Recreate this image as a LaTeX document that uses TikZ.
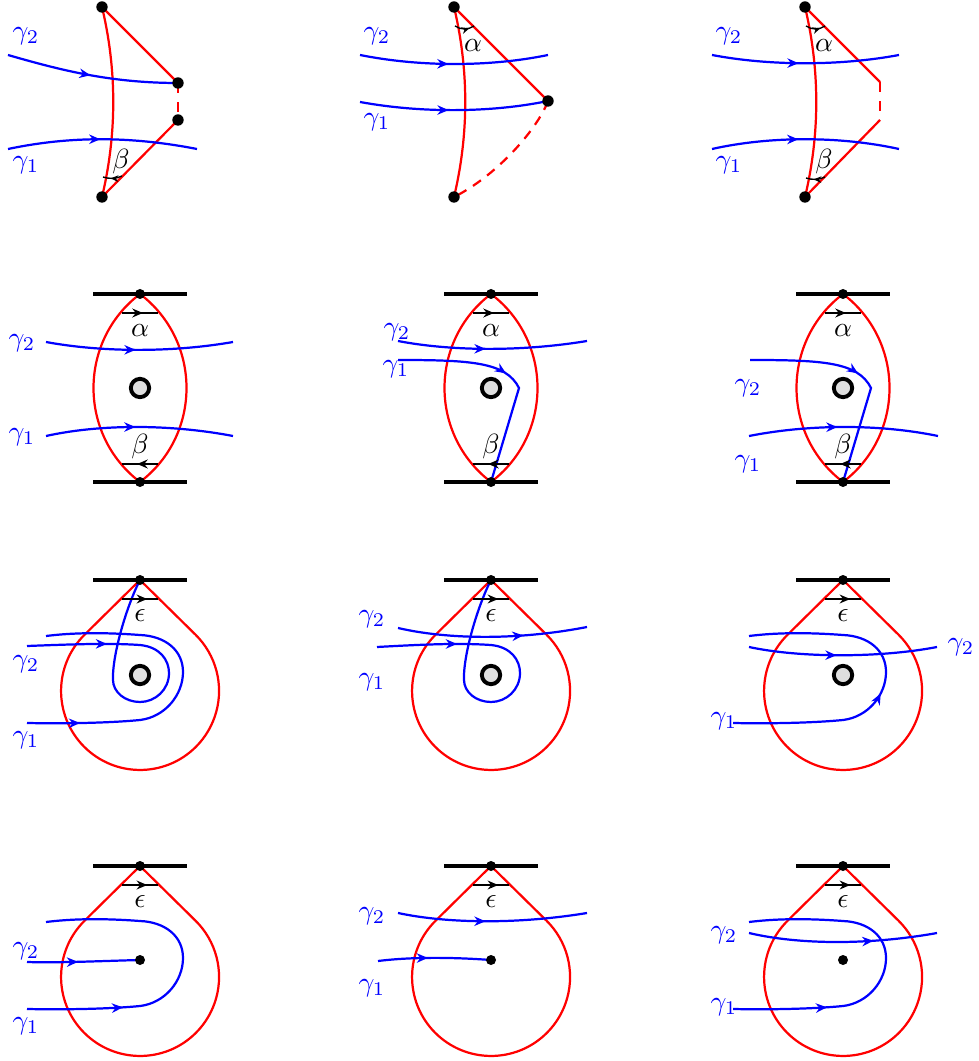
\documentclass[tikz,border=0pt]{standalone}
\usetikzlibrary{arrows.meta,decorations.markings}
\begin{document}
\begin{tikzpicture}[x=0.36pt,y=-0.36pt,
  redl/.style={red,line width=0.8pt},
  bluel/.style={blue,line width=0.8pt},
  barl/.style={black,line width=1.5pt},
  dotn/.style={circle,fill=black,inner sep=0pt,minimum size=3.6pt},
  bigdot/.style={circle,fill=black,inner sep=0pt,minimum size=4.1pt},
  obst/.style={circle,draw=black,line width=1.4pt,fill=gray!25,inner sep=0pt,minimum size=6.6pt},
  glab/.style={blue,inner sep=0pt},
  klab/.style={black,inner sep=0pt},
  dsh/.style={dash pattern=on 3.5pt off 3.5pt},
  arr/.style={postaction={decorate,decoration={markings,mark=at position #1*0.36pt with {\arrow{Stealth[length=4pt,width=3.4pt]}}}}},
  karr/.style={black,line width=0.6pt,postaction={decorate,decoration={markings,mark=at position #1 with {\arrow{Stealth[length=3.8pt,width=3.2pt]}}}}},
  sarr/.style={black,line width=0.5pt,postaction={decorate,decoration={markings,mark=at position #1 with {\arrow{Stealth[length=2.8pt,width=2.4pt]}}}}},
  tear/.pic={\draw[redl] (0,0) -- (-55.5,54.8) arc[start angle=225.3, end angle=-45.3, radius=79] -- cycle;},
  lens/.pic={\draw[redl] (0,-94) .. controls (-62,-47) and (-62,47) .. (0,94) .. controls (62,47) and (62,-47) .. (0,-94) -- cycle;}
]
\useasboundingbox (0,0) rectangle (978,1061);

% ================= Row 1 =================
% Panel 1
\coordinate (A1) at (102,7); \coordinate (B1) at (102,197);
\coordinate (C1) at (178,83); \coordinate (D1) at (178,120);
\draw[redl] (A1) .. controls (117,70) and (117,134) .. (B1);
\draw[redl] (A1) -- (C1);
\draw[redl,dsh] (C1) -- (D1);
\draw[redl] (D1) -- (B1);
\draw[bluel,arr=85] (8,55) .. controls (60,70) and (110,83) .. (C1);
\draw[bluel,arr=93] (8,149) .. controls (70,136) and (130,136) .. (197,149);
\draw[sarr=0.6] (122,176) .. controls (116,179) and (109,179) .. (103,177);
\node[glab] (P1g2) at (26,36) {$\gamma_2$};
\node[glab] (P1g1) at (26,165) {$\gamma_1$};
\node[klab] (P1b) at (121,162) {$\beta$};
\node[bigdot] (A1d) at (A1) {}; \node[bigdot] (B1d) at (B1) {};
\node[bigdot] (C1d) at (C1) {}; \node[bigdot] (D1d) at (D1) {};

% Panel 2
\coordinate (A2) at (454,7); \coordinate (B2) at (454,197); \coordinate (C2) at (548,101);
\draw[redl] (A2) .. controls (469,70) and (469,134) .. (B2);
\draw[redl] (A2) -- (C2);
\draw[redl,dash pattern=on 3.5pt off 2.8pt] (C2) .. controls (538,128) and (498,175) .. (B2);
\draw[bluel,arr=89] (360,55) .. controls (420,67) and (490,67) .. (548,55);
\draw[bluel,arr=89] (360,102) .. controls (420,113) and (490,113) .. (C2);
\draw[sarr=0.75] (455,26) .. controls (461,30) and (468,30) .. (474,26);
\node[glab] (P2g2) at (377,36) {$\gamma_2$};
\node[glab] (P2g1) at (377,122) {$\gamma_1$};
\node[klab] (P2a) at (473,46) {$\alpha$};
\node[bigdot] (A2d) at (A2) {}; \node[bigdot] (B2d) at (B2) {}; \node[bigdot] (C2d) at (C2) {};

% Panel 3
\coordinate (A3) at (805,7); \coordinate (B3) at (805,197);
\coordinate (C3) at (880,82); \coordinate (D3) at (880,120);
\draw[redl] (A3) .. controls (820,70) and (820,134) .. (B3);
\draw[redl] (A3) -- (C3);
\draw[redl,dsh] (C3) -- (D3);
\draw[redl] (D3) -- (B3);
\draw[bluel,arr=87] (712,55) .. controls (770,66) and (840,66) .. (899,55);
\draw[bluel,arr=87] (712,149) .. controls (770,136) and (840,136) .. (899,149);
\draw[sarr=0.75] (806,26) .. controls (812,30) and (819,30) .. (825,26);
\draw[sarr=0.6] (825,177) .. controls (819,180) and (812,180) .. (806,178);
\node[glab] (P3g2) at (729,36) {$\gamma_2$};
\node[glab] (P3g1) at (729,165) {$\gamma_1$};
\node[klab] (P3a) at (824,46) {$\alpha$};
\node[klab] (P3b) at (824,162) {$\beta$};
\node[bigdot] (A3d) at (A3) {}; \node[bigdot] (B3d) at (B3) {};

% ================= Row 2 =================
% Panel 4
\coordinate (T4) at (140,294); \coordinate (U4) at (140,482);
\pic at (140,388) {lens};
\draw[bluel,arr=90] (46,342) .. controls (100,352) and (170,353) .. (233,342);
\draw[bluel,arr=90] (46,436) .. controls (100,424) and (170,424) .. (233,436);
\draw[barl] (93,294) -- (187,294);
\draw[barl] (93,482) -- (187,482);
\draw[karr=0.58] (122,313) -- (158,313);
\draw[karr=0.58] (158,464) -- (122,464);
\node[obst] (O4) at (140,388) {};
\node[glab] (P4g2) at (22,343) {$\gamma_2$};
\node[glab] (P4g1) at (22,437) {$\gamma_1$};
\node[klab] (P4a) at (140,331) {$\alpha$};
\node[klab] (P4b) at (140,447) {$\beta$};
\node[dotn] (T4d) at (T4) {}; \node[dotn] (U4d) at (U4) {};

% Panel 5
\coordinate (T5) at (491,294); \coordinate (U5) at (491,482);
\pic at (491,388) {lens};
\draw[bluel,arr=88] (398,341) .. controls (450,351) and (520,352) .. (587,341);
\draw[bluel,arr=110] (398,360) .. controls (471,360) and (506,362) .. (519,388) -- (U5);
\draw[barl] (444,294) -- (538,294);
\draw[barl] (444,482) -- (538,482);
\draw[karr=0.58] (473,313) -- (509,313);
\draw[karr=0.58] (509,464) -- (473,464);
\node[obst] (O5) at (491,388) {};
\node[glab] (P5g2) at (397,332) {$\gamma_2$};
\node[glab] (P5g1) at (396,369) {$\gamma_1$};
\node[klab] (P5a) at (491,331) {$\alpha$};
\node[klab] (P5b) at (491,447) {$\beta$};
\node[dotn] (T5d) at (T5) {}; \node[dotn] (U5d) at (U5) {};

% Panel 6
\coordinate (T6) at (843,294); \coordinate (U6) at (843,482);
\pic at (843,388) {lens};
\draw[bluel,arr=110] (750,360) .. controls (823,360) and (858,362) .. (871,388) -- (U6);
\draw[bluel,arr=89] (749,436) .. controls (810,424) and (880,424) .. (938,436);
\draw[barl] (796,294) -- (890,294);
\draw[barl] (796,482) -- (890,482);
\draw[karr=0.58] (825,313) -- (861,313);
\draw[karr=0.58] (861,464) -- (825,464);
\node[obst] (O6) at (843,388) {};
\node[glab] (P6g2) at (748,388) {$\gamma_2$};
\node[glab] (P6g1) at (748,464) {$\gamma_1$};
\node[klab] (P6a) at (843,331) {$\alpha$};
\node[klab] (P6b) at (843,447) {$\beta$};
\node[dotn] (T6d) at (T6) {}; \node[dotn] (U6d) at (U6) {};

% ================= Row 3 =================
% Panel 7
\coordinate (T7) at (140,580);
\pic at (140,580) {tear};
\begin{scope}[shift={(140,675)}]
\draw[bluel,arr=53] (-113,48) .. controls (-60,49) and (-20,47) .. (0,45) .. controls (25,42) and (43,20) .. (43,-3) .. controls (43,-25) and (25,-39) .. (0,-40) .. controls (-40,-43) and (-70,-42) .. (-94,-39);
\draw[bluel,arr=80] (-113,-29) .. controls (-60,-31) and (-30,-32) .. (0,-30) .. controls (20,-28) and (29,-15) .. (29,-2) .. controls (29,15) and (15,27) .. (0,27) .. controls (-15,27) and (-27,17) .. (-27,5) .. controls (-28,-20) and (-13,-70) .. (T7);
\end{scope}
\draw[barl] (93,580) -- (187,580);
\draw[karr=0.7] (122,599) -- (158,599);
\node[obst] (O7) at (140,675) {};
\node[glab] (P7g2) at (26,664) {$\gamma_2$};
\node[glab] (P7g1) at (26,740) {$\gamma_1$};
\node[klab] (P7e) at (140,616) {$\epsilon$};
\node[dotn] (T7d) at (T7) {};

% Panel 8
\coordinate (T8) at (491,580);
\pic at (491,580) {tear};
\draw[bluel,arr=126] (398,628) .. controls (450,640) and (520,640) .. (587,627);
\begin{scope}[shift={(491,675)}]
\draw[bluel,arr=80] (-114,-28) .. controls (-60,-31) and (-30,-32) .. (0,-30) .. controls (20,-28) and (29,-15) .. (29,-2) .. controls (29,15) and (15,27) .. (0,27) .. controls (-15,27) and (-27,17) .. (-27,5) .. controls (-28,-20) and (-13,-70) .. (T8);
\end{scope}
\draw[barl] (444,580) -- (538,580);
\draw[karr=0.7] (473,599) -- (509,599);
\node[obst] (O8) at (491,675) {};
\node[glab] (P8g2) at (372,619) {$\gamma_2$};
\node[glab] (P8g1) at (372,682) {$\gamma_1$};
\node[klab] (P8e) at (491,616) {$\epsilon$};
\node[dotn] (T8d) at (T8) {};

% Panel 9
\coordinate (T9) at (843,580);
\pic at (843,580) {tear};
\draw[bluel,arr=88] (749,647) .. controls (800,658) and (880,658) .. (937,647);
\begin{scope}[shift={(843,675)}]
\draw[bluel,arr=158] (-110,48) .. controls (-60,49) and (-20,47) .. (0,45) .. controls (25,42) and (43,20) .. (43,-3) .. controls (43,-25) and (25,-39) .. (0,-40) .. controls (-40,-43) and (-70,-42) .. (-94,-39);
\end{scope}
\draw[barl] (796,580) -- (890,580);
\draw[karr=0.7] (825,599) -- (861,599);
\node[obst] (O9) at (843,675) {};
\node[glab] (P9g2) at (961,647) {$\gamma_2$};
\node[glab] (P9g1) at (724,721) {$\gamma_1$};
\node[klab] (P9e) at (843,616) {$\epsilon$};
\node[dotn] (T9d) at (T9) {};

% ================= Row 4 =================
% Panel 10
\coordinate (T10) at (140,866); \coordinate (Q10) at (140,960);
\pic at (140,866) {tear};
\draw[bluel,arr=51] (27,962) .. controls (60,963) and (100,961) .. (Q10);
\begin{scope}[shift={(140,961)}]
\draw[bluel,arr=96] (-113,48) .. controls (-60,49) and (-20,47) .. (0,45) .. controls (25,42) and (43,20) .. (43,-3) .. controls (43,-25) and (25,-39) .. (0,-40) .. controls (-40,-43) and (-70,-42) .. (-94,-39);
\end{scope}
\draw[barl] (93,866) -- (187,866);
\draw[karr=0.7] (122,885) -- (158,885);
\node[glab] (P10g2) at (26,951) {$\gamma_2$};
\node[glab] (P10g1) at (26,1026) {$\gamma_1$};
\node[klab] (P10e) at (140,902) {$\epsilon$};
\node[dotn] (T10d) at (T10) {}; \node[dotn] (Q10d) at (Q10) {};

% Panel 11
\coordinate (T11) at (491,866); \coordinate (Q11) at (491,960);
\pic at (491,866) {tear};
\draw[bluel,arr=88] (398,913) .. controls (450,924) and (520,924) .. (587,913);
\draw[bluel,arr=50] (378,961) .. controls (410,957) and (450,957) .. (Q11);
\draw[barl] (444,866) -- (538,866);
\draw[karr=0.7] (473,885) -- (509,885);
\node[glab] (P11g2) at (372,916) {$\gamma_2$};
\node[glab] (P11g1) at (372,988) {$\gamma_1$};
\node[klab] (P11e) at (491,902) {$\epsilon$};
\node[dotn] (T11d) at (T11) {}; \node[dotn] (Q11d) at (Q11) {};

% Panel 12
\coordinate (T12) at (843,866); \coordinate (Q12) at (843,960);
\pic at (843,866) {tear};
\draw[bluel,arr=125] (749,933) .. controls (800,945) and (870,945) .. (937,933);
\begin{scope}[shift={(843,961)}]
\draw[bluel,arr=94] (-110,48) .. controls (-60,49) and (-20,47) .. (0,45) .. controls (25,42) and (43,20) .. (43,-3) .. controls (43,-25) and (25,-39) .. (0,-40) .. controls (-40,-43) and (-70,-42) .. (-94,-39);
\end{scope}
\draw[barl] (796,866) -- (890,866);
\draw[karr=0.7] (825,885) -- (861,885);
\node[glab] (P12g2) at (724,935) {$\gamma_2$};
\node[glab] (P12g1) at (724,1007) {$\gamma_1$};
\node[klab] (P12e) at (843,902) {$\epsilon$};
\node[dotn] (T12d) at (T12) {}; \node[dotn] (Q12d) at (Q12) {};
\end{tikzpicture}
\end{document}
